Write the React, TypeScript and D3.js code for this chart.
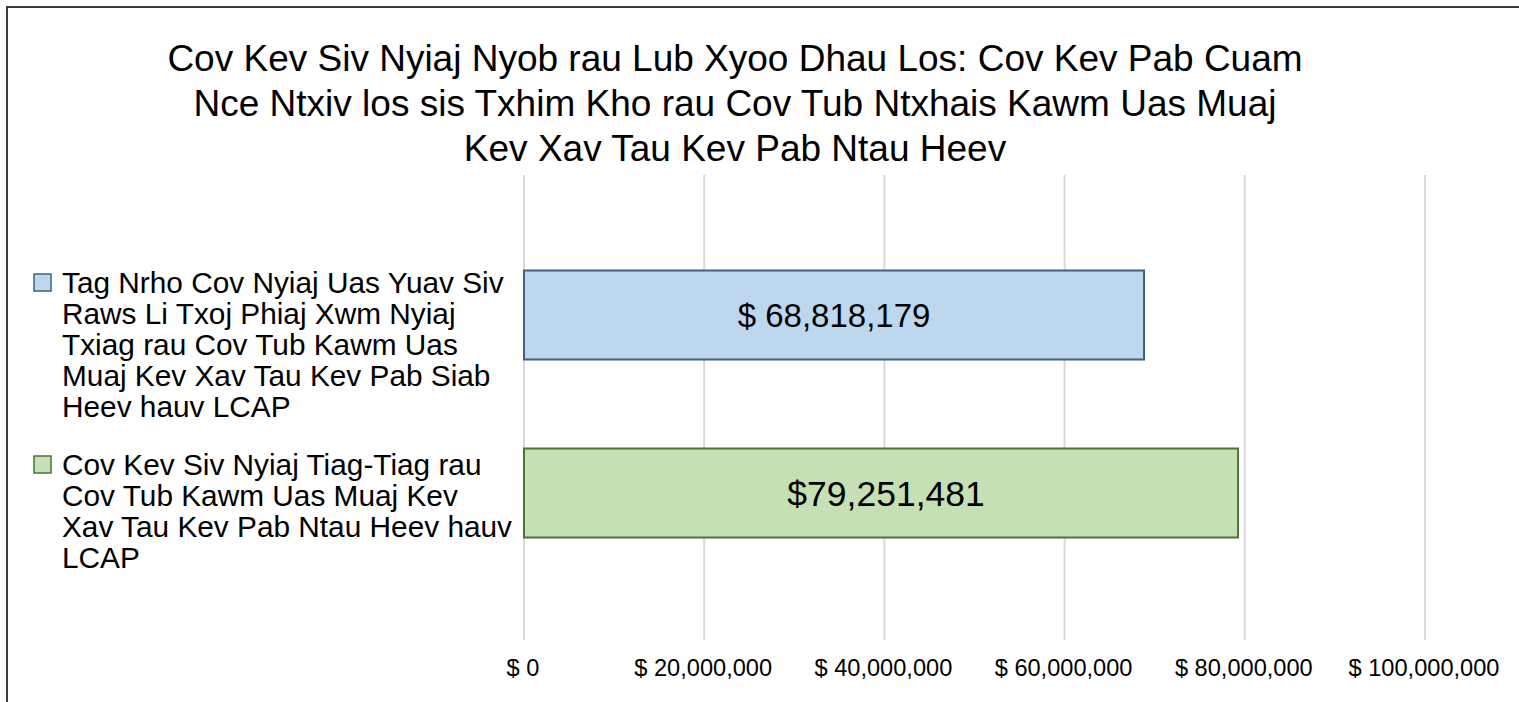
import React, { useEffect } from "react";
import * as d3 from "d3";

const titleLines = [
  "Cov Kev Siv Nyiaj Nyob rau Lub Xyoo Dhau Los: Cov Kev Pab Cuam",
  "Nce Ntxiv los sis Txhim Kho rau Cov Tub Ntxhais Kawm Uas Muaj",
  "Kev Xav Tau Kev Pab Ntau Heev",
];

const categories = ["planned", "actual"];
const values = [68818179, 79251481];
const valueLabels = ["$ 68,818,179", "$79,251,481"];
const legendLines = [
  [
    "Tag Nrho Cov Nyiaj Uas Yuav Siv",
    "Raws Li Txoj Phiaj Xwm Nyiaj",
    "Txiag rau Cov Tub Kawm Uas",
    "Muaj Kev Xav Tau Kev Pab Siab",
    "Heev hauv LCAP",
  ],
  [
    "Cov Kev Siv Nyiaj Tiag-Tiag rau",
    "Cov Tub Kawm Uas Muaj Kev",
    "Xav Tau Kev Pab Ntau Heev hauv",
    "LCAP",
  ],
];
const xTicks = [0, 20000000, 40000000, 60000000, 80000000, 100000000];
const xTickLabels = ["$ 0", "$ 20,000,000", "$ 40,000,000", "$ 60,000,000", "$ 80,000,000", "$ 100,000,000"];

const fills = ["#bdd7ee", "#c5e0b4"];
const strokes = ["#41617f", "#4f7336"];
const labelSizes = [33, 35.5];

export default function App() {
  useEffect(() => {
    document.body.style.margin = "0";
    document.body.style.overflow = "hidden";
  }, []);

  const W = 1519;
  const H = 702;
  const font = "'Liberation Sans', Arial, sans-serif";

  const x = d3.scaleLinear().domain([0, 100000000]).range([524, 1425]);
  const y = d3
    .scaleBand<string>()
    .domain(categories)
    .range([226, 582])
    .paddingInner(0.5)
    .paddingOuter(0.25);

  const gridTop = 175;
  const gridBottom = 640;
  const legendStarts = [283, 465];
  const legendLH = 31;

  return (
    <svg
      width={W}
      height={H}
      style={{ position: "absolute", left: 0, top: 0, background: "#fff" }}
      fontFamily={font}
    >
      <rect x={7} y={7} width={1700} height={900} fill="#fff" stroke="#3c3c3c" strokeWidth={2} />
      {titleLines.map((t, i) => (
        <text key={i} x={735} y={71 + i * 45} fontSize={37} textAnchor="middle" fill="#000">
          {t}
        </text>
      ))}
      {xTicks.map((v, i) => (
        <line
          key={"g" + i}
          x1={x(v)}
          x2={x(v)}
          y1={gridTop}
          y2={gridBottom}
          stroke="#d9d9d9"
          strokeWidth={2}
        />
      ))}
      {xTicks.map((v, i) => (
        <text key={"t" + i} x={x(v) - 1} y={676} fontSize={23.6} textAnchor="middle" fill="#000">
          {xTickLabels[i]}
        </text>
      ))}
      {categories.map((c, i) => {
        const by = y(c)!;
        const bh = y.bandwidth();
        return (
          <g key={c}>
            <rect
              x={x(0)}
              y={by}
              width={x(values[i]) - x(0)}
              height={bh}
              fill={fills[i]}
              stroke={strokes[i]}
              strokeWidth={2}
            />
            <text
              x={(x(0) + x(values[i])) / 2 + (i === 1 ? 5 : 0)}
              y={by + bh / 2 + labelSizes[i] * 0.36}
              fontSize={labelSizes[i]}
              textAnchor="middle"
              fill="#000"
            >
              {valueLabels[i]}
            </text>
          </g>
        );
      })}
      {legendLines.map((lines, i) => (
        <g key={"l" + i}>
          <rect
            x={34}
            y={legendStarts[i] - 9}
            width={17}
            height={17}
            fill={fills[i]}
            stroke={strokes[i]}
            strokeWidth={1.5}
          />
          {lines.map((t, j) => (
            <text key={j} x={62} y={legendStarts[i] + 10 + j * legendLH} fontSize={29.8} fill="#000">
              {t}
            </text>
          ))}
        </g>
      ))}
    </svg>
  );
}
